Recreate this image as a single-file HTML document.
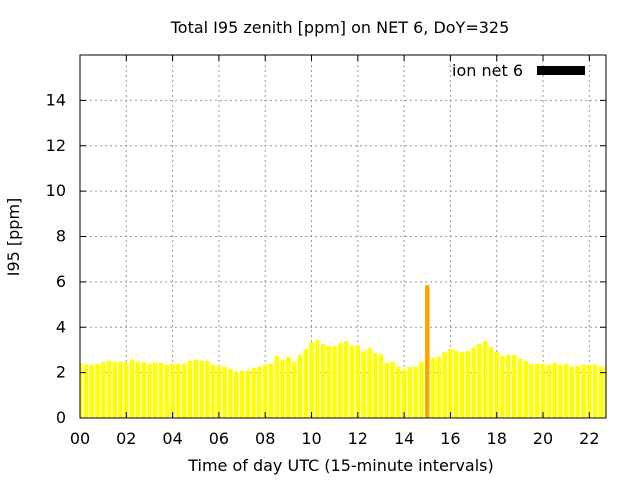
<!DOCTYPE html>
<html><head><meta charset="utf-8"><style>
body{margin:0;background:#fff}
svg{font-family:"DejaVu Sans","Liberation Sans",sans-serif}
</style></head><body>
<svg id="chart" width="640" height="480">
<text x="340" y="33" text-anchor="middle" font-size="16">Total I95 zenith [ppm] on NET 6, DoY=325</text>
<text x="341" y="471" text-anchor="middle" font-size="16">Time of day UTC (15-minute intervals)</text>
<text transform="translate(19,237) rotate(-90)" text-anchor="middle" font-size="16">I95 [ppm]</text>
<g id="grid"></g><g id="bars"></g><g id="ticks"></g>
<rect x="80" y="55" width="526" height="363" fill="none" stroke="#000" stroke-width="1"/>
<g>
<text x="523" y="76" text-anchor="end" font-size="16">ion net 6</text>
<rect x="537" y="66" width="48" height="9" fill="#000"/>
</g>
</svg>
<script>
const values=[2.43,2.35,2.35,2.39,2.46,2.52,2.48,2.48,2.43,2.57,2.48,2.48,2.39,2.43,2.43,2.35,2.39,2.39,2.39,2.52,2.57,2.52,2.52,2.35,2.3,2.26,2.17,2.04,2.09,2.09,2.22,2.26,2.35,2.39,2.74,2.57,2.7,2.48,2.78,3.04,3.35,3.43,3.26,3.17,3.17,3.3,3.39,3.19,3.19,2.93,3.09,2.87,2.8,2.43,2.48,2.26,2.13,2.26,2.26,2.48,5.85,2.65,2.7,2.91,3.04,2.96,2.91,2.96,3.09,3.26,3.39,3.13,2.91,2.74,2.78,2.78,2.61,2.52,2.39,2.39,2.39,2.35,2.43,2.35,2.39,2.26,2.3,2.35,2.35,2.35,2.26,2.3];
const highlight=[60];
const xTicks=[0,2,4,6,8,10,12,14,16,18,20,22];
const xLabels=["00","02","04","06","08","10","12","14","16","18","20","22"];
const yTicks=[0,2,4,6,8,10,12,14];
const NS="http://www.w3.org/2000/svg";
const X0=80,X1=606,Y0=418,Y1=55,XMAX=22.72,YMAX=16;
const sx=h=>X0+h/XMAX*(X1-X0);
const sy=v=>Y0-v/YMAX*(Y0-Y1);
function mk(t,a,p){const e=document.createElementNS(NS,t);for(const k in a)e.setAttribute(k,a[k]);p.appendChild(e);return e;}
const grid=document.getElementById('grid'),bars=document.getElementById('bars'),ticks=document.getElementById('ticks');
yTicks.forEach(v=>{const y=sy(v);
 if(v>0){const g=mk('line',{x1:X0,x2:X1,y1:y,y2:y,stroke:'#999','stroke-dasharray':'2,3'},grid);
 
 }
 mk('line',{x1:X0,x2:X0+6,y1:y,y2:y,stroke:'#000'},ticks);
 mk('line',{x1:X1,x2:X1-6,y1:y,y2:y,stroke:'#000'},ticks);
 const t=mk('text',{x:66,y:y+5,'text-anchor':'end','font-size':16},ticks);t.textContent=v;
 
 
});
xTicks.forEach((h,i)=>{const x=sx(h);
 if(h>0){const g=mk('line',{x1:x,x2:x,y1:Y1,y2:Y0,stroke:'#999','stroke-dasharray':'2,3'},grid);
 
 }
 mk('line',{x1:x,x2:x,y1:Y0,y2:Y0-6,stroke:'#000'},ticks);
 mk('line',{x1:x,x2:x,y1:Y1,y2:Y1+6,stroke:'#000'},ticks);
 const t=mk('text',{x:x,y:444,'text-anchor':'middle','font-size':16},ticks);t.textContent=xLabels[i];
 
 
});
const bw=(sx(0.25)-sx(0))*0.78;
values.forEach((v,i)=>{const c=sx(i*0.25);let l=c-bw/2,r=c+bw/2;l=Math.max(l,X0);r=Math.min(r,X1);
 const hi=highlight.includes(i);
 const b=mk('rect',{x:l,y:sy(v),width:Math.max(0,r-l),height:Y0-sy(v),fill:hi?'#ffa500':'#ffff00'},bars);
 
 
});
</script>
</body></html>
